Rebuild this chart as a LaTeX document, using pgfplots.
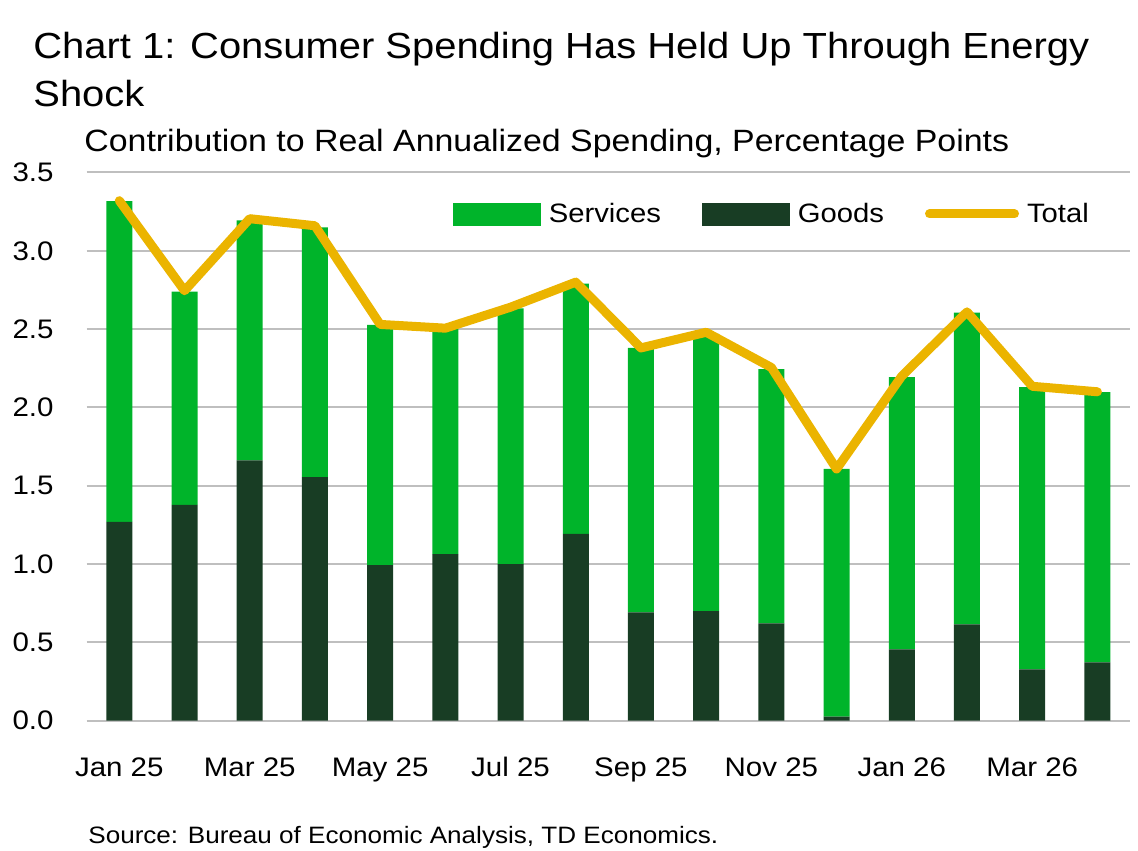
\documentclass[border=0pt]{standalone}
\usepackage{fontspec}
\setmainfont{Liberation Sans}[FakeStretch=1.1]
\usepackage{pgfplots}
\usepackage{pgfplotstable}
\pgfplotsset{compat=1.18}
\definecolor{services}{HTML}{00B42A}
\definecolor{goods}{HTML}{183D24}
\definecolor{totalc}{HTML}{EBB400}
\definecolor{gridc}{HTML}{BFBFBF}

\pgfplotstableread{
x goods services total
0 1.270 2.047 3.320
1 1.378 1.361 2.745
2 1.662 1.533 3.205
3 1.555 1.595 3.160
4 0.994 1.533 2.530
5 1.063 1.437 2.506
6 1.000 1.632 2.640
7 1.193 1.597 2.800
8 0.692 1.688 2.380
9 0.699 1.771 2.480
10 0.622 1.623 2.255
11 0.026 1.581 1.607
12 0.455 1.738 2.200
13 0.615 1.990 2.610
14 0.327 1.802 2.135
15 0.372 1.725 2.100
}\data

\pgfplotsset{base/.style={scale only axis, width=521.65pt, height=274.1pt,
  xmin=-0.5, xmax=15.5, ymin=0, ymax=3.5, at={(0pt,0pt)}, anchor=south west}}

\begin{document}
\begin{tikzpicture}
\path[use as bounding box] (-43.35pt,-64.65pt) rectangle (525.65pt,360.35pt);
\begin{axis}[base, ybar stacked, bar width=13pt,
  axis line style={draw=none}, major tick length=0pt,
  ymajorgrids, grid style={gridc, line width=1pt},
  ytick={0,0.5,1,1.5,2,2.5,3,3.5},
  /pgf/number format/.cd, fixed, fixed zerofill, precision=1, assume math mode=true, /pgfplots/.cd,
  xtick={0,2,4,6,8,10,12,14},
  xticklabels={Jan 25, Mar 25, May 25, Jul 25, Sep 25, Nov 25, Jan 26, Mar 26},
  ticklabel style={font=\fontsize{13.4}{16}\selectfont},
  yticklabel style={anchor=east, inner sep=0pt, xshift=-16.4pt},
  xticklabel style={anchor=base, inner sep=0pt, yshift=-27.9pt},
]
\addplot[fill=goods, draw=none] table[x=x, y=goods]{\data};
\addplot[fill=services, draw=none] table[x=x, y=services]{\data};
\end{axis}
\begin{axis}[base, hide axis, legend columns=3,
  legend style={at={(0.3511,0.9243)}, anchor=west, draw=none, fill=none,
    inner sep=0pt, outer sep=0pt, font=\fontsize{13.3}{16}\selectfont,
    nodes={inner sep=0pt},
    /tikz/every odd column/.append style={column sep=4pt},
    /tikz/every even column/.append style={column sep=20.5pt},
    /tikz/column 4/.append style={column sep=14pt},
    /tikz/column 5/.append style={column sep=0.5pt}},
]
\addlegendimage{legend image code/.code={\fill[services] (0pt,-5.5pt) rectangle (43.5pt,5.5pt);}}
\addlegendentry{Services}
\addlegendimage{legend image code/.code={\fill[goods] (0pt,-5.5pt) rectangle (43.5pt,5.5pt);}}
\addlegendentry{Goods}
\addplot[totalc, line width=4.5pt, line join=round, line cap=round,
  legend image code/.code={\draw[totalc, line width=4.5pt, line cap=round] (0pt,0pt) -- (42.5pt,0pt);}]
  table[x=x, y=total]{\data};
\addlegendentry{Total}
\end{axis}
\node[anchor=base west, inner sep=0pt, font=\fontsize{18.15}{22}\selectfont] at (-26.85pt,330.85pt) {Chart 1: Consumer Spending Has Held Up Through Energy};
\node[anchor=base west, inner sep=0pt, font=\fontsize{18.15}{22}\selectfont] at (-26.85pt,306.85pt) {Shock};
\node[anchor=base west, inner sep=0pt, font=\fontsize{15.4}{18}\selectfont] at (-1.35pt,284.35pt) {Contribution to Real Annualized Spending, Percentage Points};
\node[anchor=base west, inner sep=0pt, font=\fontsize{11.85}{14}\selectfont] at (0.65pt,-61.15pt) {Source: Bureau of Economic Analysis, TD Economics.};
\end{tikzpicture}
\end{document}
